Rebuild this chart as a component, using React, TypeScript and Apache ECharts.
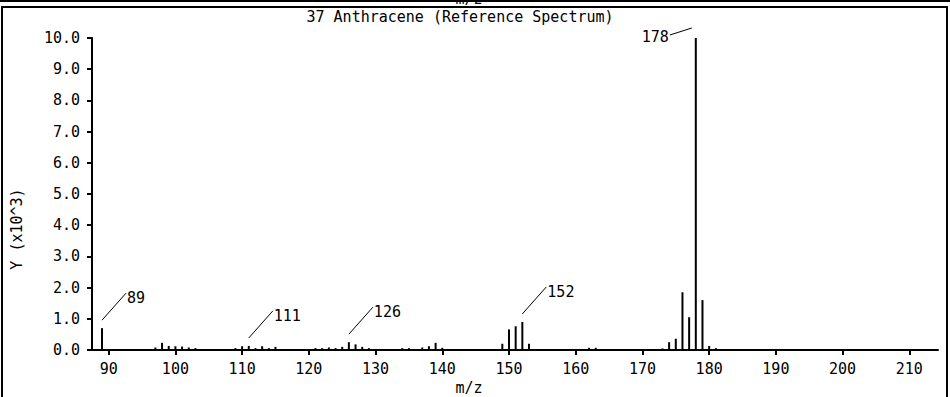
import React, { useEffect, useRef } from "react";
import * as echarts from "echarts";

// m/z values of the peaks
const mzValues: number[] = [
  89,
  97, 98, 99, 100, 101, 102, 103,
  109, 110, 111, 112, 113, 114, 115,
  121, 122, 123, 124, 125, 126, 127, 128, 129,
  134, 135, 137, 138, 139, 140,
  149, 150, 151, 152, 153,
  162, 163,
  173, 174, 175, 176, 177, 178, 179, 180, 181,
];

// abundance of each peak (counts)
const abundance: number[] = [
  700,
  80, 230, 130, 120, 110, 80, 60,
  60, 120, 130, 60, 120, 60, 100,
  60, 60, 80, 60, 100, 250, 180, 100, 60,
  60, 60, 80, 120, 230, 70,
  200, 660, 760, 900, 200,
  70, 70,
  50, 250, 360, 1850, 1050, 10000, 1600, 130, 60,
];

// peaks that get a label
const labelledMz: number[] = [89, 111, 126, 152, 178];

const xTickValues: number[] = [90, 100, 110, 120, 130, 140, 150, 160, 170, 180, 190, 200, 210];

const titleText = "37 Anthracene (Reference Spectrum)";
const xName = "m/z";
const yName = "Y (x10^3)";

const FONT = '"DejaVu Sans Mono", "Liberation Mono", monospace';

export default function App() {
  const ref = useRef<HTMLDivElement>(null);

  useEffect(() => {
    document.body.style.margin = "0";
    document.body.style.overflow = "hidden";
    if (!ref.current) return;
    const chart = echarts.init(ref.current, null, { renderer: "svg" });

    const barData = mzValues.map((m, i) => [m, abundance[i]]);
    const labelData = labelledMz.map((m) => [m, abundance[mzValues.indexOf(m)]]);
    const maxVal = Math.max(...abundance);

    const textStyle = (text: string, align: string) => ({
      text,
      fill: "#000",
      font: `15px ${FONT}`,
      align,
      verticalAlign: "middle",
      textAlign: align,
      textVerticalAlign: "middle",
    });

    chart.setOption({
      animation: false,
      backgroundColor: "#fff",
      grid: { left: 92, right: 12, top: 38, bottom: 47, containLabel: false },
      xAxis: {
        type: "value",
        min: 87.5,
        max: 214.3,
        offset: 5,
        axisLine: { show: true, lineStyle: { color: "#000", width: 2 } },
        axisTick: {
          show: true,
          length: 5,
          customValues: xTickValues,
          lineStyle: { color: "#000", width: 2 },
        },
        axisLabel: {
          customValues: xTickValues,
          color: "#000",
          fontFamily: FONT,
          fontSize: 15,
          margin: 6,
        },
        splitLine: { show: false },
      },
      yAxis: {
        type: "value",
        min: 0,
        max: 10000,
        interval: 1000,
        axisLine: { show: true, lineStyle: { color: "#000", width: 2 } },
        axisTick: { show: true, length: 5, lineStyle: { color: "#000", width: 2 } },
        axisLabel: {
          color: "#000",
          fontFamily: FONT,
          fontSize: 15,
          margin: 12,
          formatter: (v: number) => (v / 1000).toFixed(1),
        },
        splitLine: { show: false },
      },
      series: [
        {
          type: "bar",
          data: barData,
          barWidth: 2,
          itemStyle: { color: "#000" },
          silent: true,
        },
        {
          type: "custom",
          data: labelData,
          silent: true,
          clip: false,
          renderItem: (params: any, api: any) => {
            const x = api.value(0);
            const y = api.value(1);
            const p = api.coord([x, y]);
            if (y > 0.9 * maxVal) {
              return {
                type: "group",
                children: [
                  {
                    type: "line",
                    shape: { x1: p[0] - 4, y1: p[1] - 10, x2: p[0] - 26, y2: p[1] - 3 },
                    style: { stroke: "#000", lineWidth: 1 },
                  },
                  {
                    type: "text",
                    x: p[0] - 27,
                    y: p[1] - 1,
                    style: textStyle(String(x), "right"),
                  },
                ],
              };
            }
            return {
              type: "group",
              children: [
                {
                  type: "line",
                  shape: { x1: p[0], y1: p[1] - 8, x2: p[0] + 24, y2: p[1] - 35 },
                  style: { stroke: "#000", lineWidth: 1 },
                },
                {
                  type: "text",
                  x: p[0] + 25,
                  y: p[1] - 30,
                  style: textStyle(String(x), "left"),
                },
              ],
            };
          },
        },
      ],
      graphic: [
        {
          type: "text",
          x: 469,
          y: -1,
          style: textStyle(xName, "center"),
        },
        {
          type: "line",
          shape: { x1: 0, y1: 1, x2: 950, y2: 1 },
          style: { stroke: "#000", lineWidth: 2 },
        },
        {
          type: "rect",
          shape: { x: 2, y: 7, width: 945, height: 400 },
          style: { stroke: "#000", lineWidth: 2, fill: "none" },
        },
        {
          type: "text",
          x: 460,
          y: 17,
          style: textStyle(titleText, "center"),
        },
        {
          type: "text",
          x: 469,
          y: 388,
          style: textStyle(xName, "center"),
        },
        {
          type: "text",
          x: 17,
          y: 229,
          rotation: Math.PI / 2,
          style: textStyle(yName, "center"),
        },
      ],
    });

    return () => chart.dispose();
  }, []);

  return <div ref={ref} style={{ width: 950, height: 397 }} />;
}
